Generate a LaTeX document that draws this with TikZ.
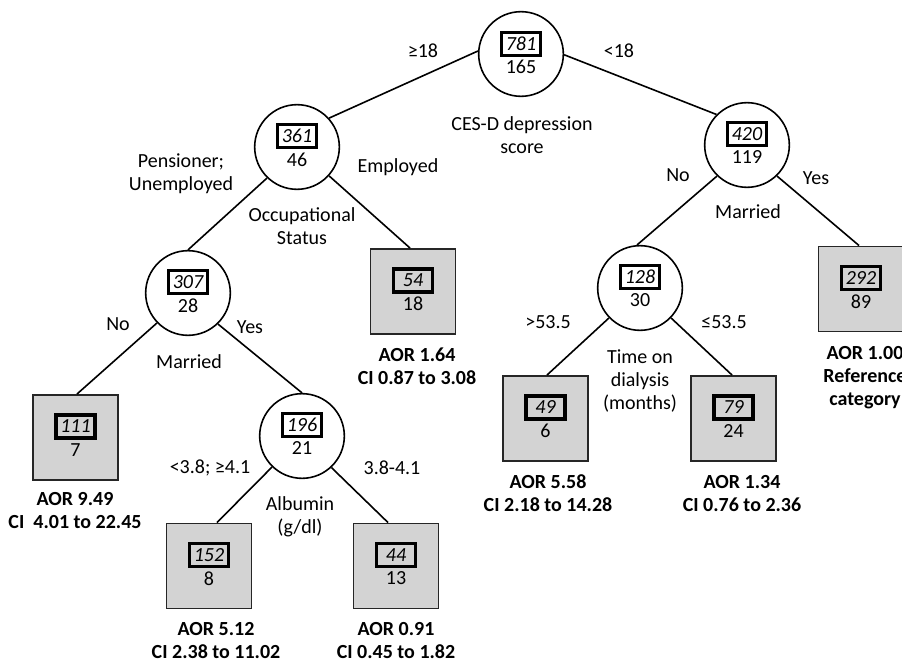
\documentclass[tikz,border=0pt]{standalone}
\usepackage{fontspec}
\setmainfont{Carlito}
\usetikzlibrary{calc}
\definecolor{sqgray}{RGB}{211,211,211}
\begin{document}
\begin{tikzpicture}[x=0.75pt,y=-0.75pt,
  every node/.style={font=\fontsize{15}{17.25}\selectfont, inner sep=0pt},
  circ/.style={circle, draw, line width=1.2pt, minimum size=63.5pt},
  sq/.style={rectangle, draw=black!85, fill=sqgray, line width=1.2pt, minimum size=64pt},
  numbox/.style={draw, line width=2.6pt, minimum width=29.5pt, minimum height=17pt, font=\fontsize{15}{17}\selectfont\itshape},
  lbl/.style={align=center},
  aor/.style={align=center, font=\fontsize{15}{17.25}\selectfont\bfseries},
  edge/.style={line width=1.2pt}]
\useasboundingbox (0,0) rectangle (902,663);

% tree nodes
\node[circ] (R) at (521,54) {};
\node[numbox] (Rb) at ($(R)+(0,-10)$) {781};
\node (Rn) at ($(R)+(0,13)$) {165};

\node[circ] (A) at (297,147) {};
\node[numbox] (Ab) at ($(A)+(0,-11)$) {361};
\node (An) at ($(A)+(0,12.5)$) {46};

\node[circ] (B) at (747,145) {};
\node[numbox] (Bb) at ($(B)+(0,-11)$) {420};
\node (Bn) at ($(B)+(0,12.5)$) {119};

\node[circ] (C) at (188,293) {};
\node[numbox] (Cb) at ($(C)+(0,-11)$) {307};
\node (Cn) at ($(C)+(0,12.5)$) {28};

\node[sq] (D) at (413,291.5) {};
\node[numbox] (Db) at ($(D)+(0,-11)$) {54};
\node (Dn) at ($(D)+(0,12.5)$) {18};

\node[circ] (E) at (640,288) {};
\node[numbox] (Eb) at ($(E)+(0,-11)$) {128};
\node (En) at ($(E)+(0,12.5)$) {30};

\node[sq] (F) at (861,289) {};
\node[numbox] (Fb) at ($(F)+(0,-11)$) {292};
\node (Fn) at ($(F)+(0,12.5)$) {89};

\node[sq] (G) at (75.5,437.5) {};
\node[numbox] (Gb) at ($(G)+(0,-11)$) {111};
\node (Gn) at ($(G)+(0,12.5)$) {7};

\node[circ] (H) at (302,436) {};
\node[numbox] (Hb) at ($(H)+(0,-11)$) {196};
\node (Hn) at ($(H)+(0,12.5)$) {21};

\node[sq] (I) at (545.5,418.5) {};
\node[numbox] (Ib) at ($(I)+(0,-11)$) {49};
\node (In) at ($(I)+(0,12.5)$) {6};

\node[sq] (J) at (733.5,418.5) {};
\node[numbox] (Jb) at ($(J)+(0,-11)$) {79};
\node (Jn) at ($(J)+(0,12.5)$) {24};

\node[sq] (K) at (209,566) {};
\node[numbox] (Kb) at ($(K)+(0,-11)$) {152};
\node (Kn) at ($(K)+(0,12.5)$) {8};

\node[sq] (L) at (396,566) {};
\node[numbox] (Lb) at ($(L)+(0,-11)$) {44};
\node (Ln) at ($(L)+(0,12.5)$) {13};

% connectors
\draw[edge] (R.176) -- (A.42);
\draw[edge] (R.-1) -- (B.135);
\draw[edge] (A.226) -- (C.north);
\draw[edge] (A.-42) -- ($(D.north)+(-3,0)$);
\draw[edge] (B.226) -- (E.94);
\draw[edge] (B.-46) -- ($(F.north)+(-2,0)$);
\draw[edge] (C.224) -- ($(G.north)+(1.5,0)$);
\draw[edge] (C.-46) -- (H.north);
\draw[edge] (E.224) -- ($(I.north)+(1.5,0)$);
\draw[edge] (E.-44) -- ($(J.north)+(-1.5,0)$);
\draw[edge] (H.226) -- ($(K.north)+(8,0)$);
\draw[edge] (H.-47) -- ($(L.north)+(-8,0)$);

% split labels
\node (t1) at (423,51) {≥18};
\node (t2) at (619,51) {<18};
\node[lbl] (t3) at (522,135) {CES-D depression\\score};
\node[lbl] (t4) at (181,174) {Pensioner;\\Unemployed};
\node (t5) at (398,167) {Employed};
\node[lbl] (t6) at (302,226) {Occupational\\Status};
\node (t7) at (678,175) {No};
\node (t8) at (816,178) {Yes};
\node (t9) at (748,212) {Married};
\node (t10) at (118,324) {No};
\node (t11) at (250,327) {Yes};
\node (t12) at (189,362) {Married};
\node (t13) at (548,322) {>53.5};
\node (t14) at (724,322) {≤53.5};
\node[lbl] (t15) at (640,381) {Time on\\dialysis\\(months)};
\node (t16) at (210,468) {<3.8; ≥4.1};
\node (t17) at (392,468) {3.8-4.1};
\node[lbl] (t18) at (300,517) {Albumin\\(g/dl)};

% result labels
\node[aor] (rD) at (417,366) {AOR 1.64\\CI 0.87 to 3.08};
\node[aor] (rF) at (865,378) {AOR 1.00\\Reference\\category};
\node[aor] (rG) at (75,511) {AOR 9.49\\CI\ \ 4.01 to 22.45};
\node[aor] (rI) at (548,493.5) {AOR 5.58\\CI 2.18 to 14.28};
\node[aor] (rJ) at (742,493.5) {AOR 1.34\\CI 0.76 to 2.36};
\node[aor] (rK) at (216,640.5) {AOR 5.12\\CI 2.38 to 11.02};
\node[aor] (rL) at (396,640.5) {AOR 0.91\\CI 0.45 to 1.82};
\end{tikzpicture}
\end{document}
